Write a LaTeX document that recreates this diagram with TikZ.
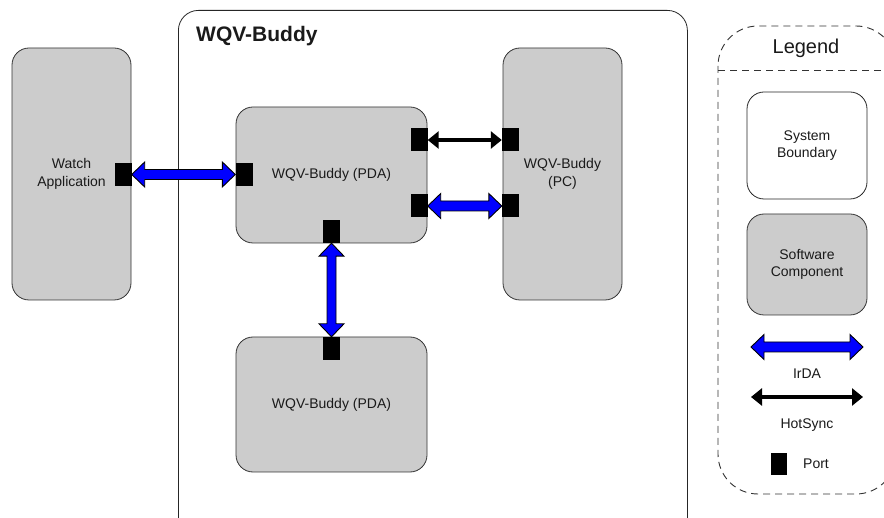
\documentclass[tikz,border=0pt]{standalone}
\usepackage{fontspec}
\setmainfont{Liberation Sans}
\usetikzlibrary{arrows.meta,calc}

\definecolor{compgray}{HTML}{CCCCCC}
\definecolor{irdablue}{HTML}{0000FF}
\definecolor{txt}{HTML}{1A1A1A}

\tikzset{
  comp/.style={draw=black!80, fill=compgray, rounded corners=17pt, line width=0.8pt,
    inner sep=0pt, align=center, font=\fontsize{14}{17.5}\selectfont, text=txt},
  sysbound/.style={draw=black!85, fill=white, rounded corners=20pt, line width=0.8pt,
    inner sep=0pt, align=center, font=\fontsize{14}{17.5}\selectfont, text=txt},
  port/.style={fill=black, minimum width=17pt, minimum height=23pt, inner sep=0pt},
  irda/.style={fill=irdablue, draw=black, line width=0.9pt, line join=miter},
  hotsync/.style={draw=black, line width=3.2pt, >={Triangle[length=11pt,width=17pt]}, <->},
  legendbox/.style={draw=black!80, dash pattern=on 7pt off 5pt, line width=0.9pt},
  lbl/.style={font=\fontsize{14}{17.5}\selectfont, text=txt, align=center, inner sep=0pt},
}

% horizontal IrDA double arrow between a left tip #1 and a right tip #2
\newcommand\irdah[2]{%
  \filldraw[irda] let \p1=(#1), \p2=(#2) in
    (\x1,\y1) -- (\x1+13pt,\y1+12.5pt) -- (\x1+13pt,\y1+5pt) -- (\x2-13pt,\y1+5pt)
    -- (\x2-13pt,\y1+12.5pt) -- (\x2,\y1) -- (\x2-13pt,\y1-12.5pt) -- (\x2-13pt,\y1-5pt)
    -- (\x1+13pt,\y1-5pt) -- (\x1+13pt,\y1-12.5pt) -- cycle;}

% vertical IrDA double arrow between an upper tip #1 and a lower tip #2
\newcommand\irdav[2]{%
  \filldraw[irda] let \p1=(#1), \p2=(#2) in
    (\x1,\y1) -- (\x1+12.5pt,\y1-13pt) -- (\x1+4.5pt,\y1-13pt) -- (\x1+4.5pt,\y2+13pt)
    -- (\x1+12.5pt,\y2+13pt) -- (\x1,\y2) -- (\x1-12.5pt,\y2+13pt) -- (\x1-4.5pt,\y2+13pt)
    -- (\x1-4.5pt,\y1-13pt) -- (\x1-12.5pt,\y1-13pt) -- cycle;}

\begin{document}
\begin{tikzpicture}[x=1pt,y=-1pt]
\useasboundingbox (0,0) rectangle (884,518);
\fill[white] (0,0) rectangle (884,518);

% system boundary
\node[sysbound, anchor=north west, minimum width=509pt, minimum height=540pt] (sys) at (178,10) {};
\node[anchor=base west, inner sep=0pt, font=\bfseries\fontsize{21}{24}\selectfont, text=txt]
  (systitle) at (196,42) {WQV-Buddy};

% software components
\node[comp, minimum width=119pt, minimum height=252pt] (watch) at (71.5,174) {Watch\\Application};
\node[comp, minimum width=191pt, minimum height=136pt] (pda) at (331.5,175) {WQV-Buddy (PDA)};
\node[comp, minimum width=119pt, minimum height=252pt] (pc) at (562.5,174) {WQV-Buddy\\(PC)};
\node[comp, minimum width=191pt, minimum height=135pt] (pdab) at (331.5,404.5) {WQV-Buddy (PDA)};

% ports
\node[port] (watchp) at (123,174.5) {};
\node[port] (pdal)   at (244,174.5) {};
\node[port] (pdar1)  at (419,140) {};
\node[port] (pdar2)  at (419,206) {};
\node[port] (pdas)   at (331.5,231.5) {};
\node[port] (pcl1)   at (510.5,140) {};
\node[port] (pcl2)   at (510.5,206) {};
\node[port] (pdabn)  at (331.5,348.5) {};

% connectors
\irdah{watchp.east}{pdal.west}
\draw[hotsync] (pdar1.east) -- (pcl1.west);
\irdah{pdar2.east}{pcl2.west}
\irdav{pdas.south}{pdabn.north}

% legend
\draw[legendbox, rounded corners=40pt] (718,26) rectangle (896,494);
\coordinate (sepl) at (718,70);
\coordinate (sepr) at (884,70);
\draw[legendbox] (sepl) -- (sepr);
\node[anchor=base, inner sep=0pt, font=\fontsize{20}{24}\selectfont, text=txt] (legtitle) at (806,54) {Legend};

\node[sysbound, rounded corners=17pt, minimum width=120pt, minimum height=107pt] (lsys) at (807,145.5) {System\\Boundary};
\node[comp, minimum width=120pt, minimum height=101pt] (lcomp) at (807,264.5) {Software\\Component};

\coordinate (irdaa) at (751,347);
\coordinate (irdab) at (863,347);
\irdah{irdaa}{irdab}
\node[lbl, anchor=base] (irdalbl) at (807,379) {IrDA};

\coordinate (hsa) at (751,397);
\coordinate (hsb) at (863,397);
\draw[hotsync] (hsa) -- (hsb);
\node[lbl, anchor=base] (hslbl) at (807,429) {HotSync};

\node[port, minimum height=22pt, minimum width=16pt] (lport) at (779,464) {};
\node[lbl, anchor=west] (portlbl) at (803,464) {Port};
\end{tikzpicture}
\end{document}
